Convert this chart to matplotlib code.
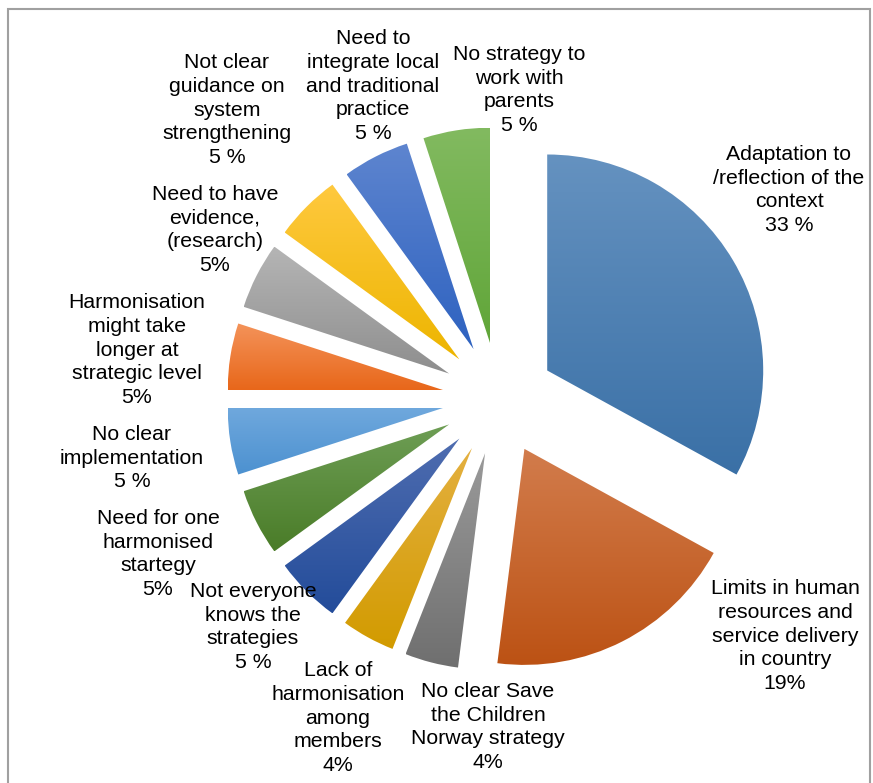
import matplotlib
matplotlib.use("Agg")
import matplotlib.pyplot as plt
import numpy as np
from matplotlib.colors import to_rgb
from matplotlib.patches import Rectangle

plt.rcParams['font.family'] = ['Liberation Sans', 'DejaVu Sans']

# Challenges mentioned (share of answers, %)
categories = [
    "Adaptation to\n/reflection of the\ncontext",
    "Limits in human\nresources and\nservice delivery\nin country",
    "No clear Save\nthe Children\nNorway strategy",
    "Lack of\nharmonisation\namong\nmembers",
    "Not everyone\nknows the\nstrategies",
    "Need for one\nharmonised\nstartegy",
    "No clear\nimplementation",
    "Harmonisation\nmight take\nlonger at\nstrategic level",
    "Need to have\nevidence,\n(research)",
    "Not clear\nguidance on\nsystem\nstrengthening",
    "Need to\nintegrate local\nand traditional\npractice",
    "No strategy to\nwork with\nparents",
]
values = [33, 19, 4, 4, 5, 5, 5, 5, 5, 5, 5, 5]
pct_sep = [" ", "", "", "", " ", "", " ", "", "", " ", " ", " "]

# gradient colours per slice (top, bottom)
colors = [
    ("#6592C0", "#3A70A6"),
    ("#D27C4C", "#BC5214"),
    ("#9A9A9A", "#6F6F6F"),
    ("#E4B040", "#D29B00"),
    ("#4F6DB0", "#234C9A"),
    ("#6E9E55", "#4A7C28"),
    ("#6FA8DD", "#4C91D0"),
    ("#F4935A", "#E8671A"),
    ("#B5B5B5", "#8E8E8E"),
    ("#FFC93F", "#EDB500"),
    ("#5E85CF", "#2E62C0"),
    ("#82BA60", "#60A538"),
]

W, H = 873, 783
fig = plt.figure(figsize=(W / 100, H / 100), dpi=100)
ax = fig.add_axes([0, 0, 1, 1])

cx, cy = 499, H - 399
R = 216
wedges, _ = ax.pie(values, center=(cx, cy), radius=R, startangle=90,
                   counterclock=False, explode=[56] * len(values),
                   wedgeprops=dict(linewidth=0))

# vertical gradient fill clipped to each wedge
for w, (c_top, c_bot) in zip(wedges, colors):
    ext = w.get_path().get_extents()
    t = np.linspace(0, 1, 256)[:, None, None]
    grad = (1 - t) * np.array(to_rgb(c_top)) + t * np.array(to_rgb(c_bot))
    im = ax.imshow(grad, extent=(ext.x0, ext.x1, ext.y0, ext.y1),
                   origin="upper", aspect="auto", zorder=2)
    im.set_clip_path(w)
    w.set_facecolor("none")

# label centres (pixels from top-left)
label_xy = [(789, 190), (785, 636), (488, 727), (338, 718), (253, 627),
            (158, 554), (132, 458), (137, 350), (215, 230), (227, 110),
            (373, 86), (519, 90)]

for name, v, sep, (lx, ly) in zip(categories, values, pct_sep, label_xy):
    ax.text(lx, H - ly, f"{name}\n{v}{sep}%", ha="center", va="center",
            fontsize=15.3, linespacing=1.33, color="black", zorder=3)

# chart frame
ax.add_patch(Rectangle((8, -20), 862, H - 9 + 20, fill=False,
                       edgecolor="#a0a0a0", linewidth=1.5, zorder=1))

ax.set_xlim(0, W)
ax.set_ylim(0, H)
ax.set_aspect("auto")
ax.axis("off")

fig.savefig("out.png", dpi=100)
